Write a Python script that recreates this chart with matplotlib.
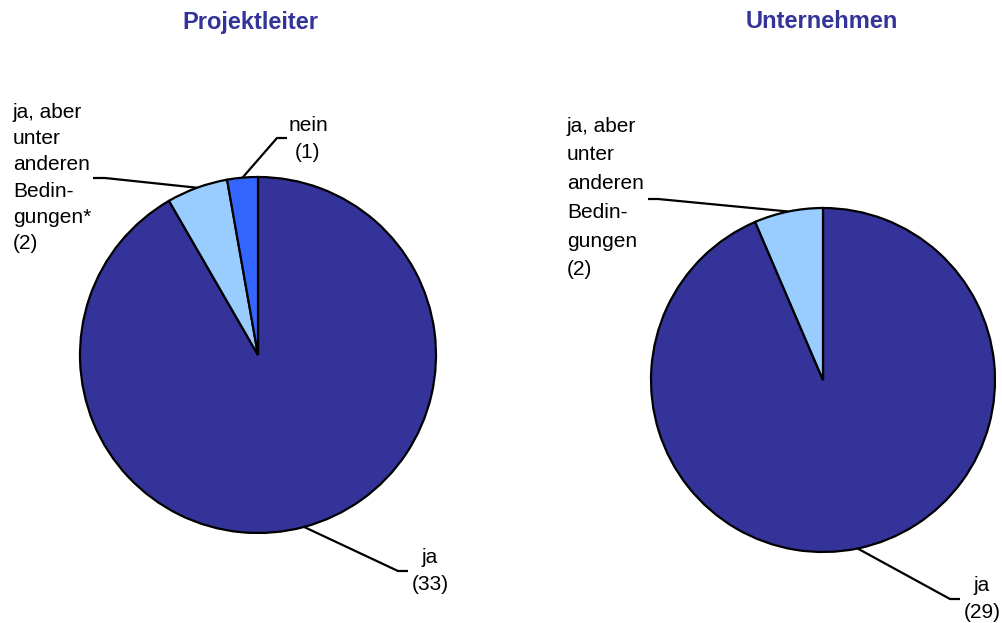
import numpy as np
import matplotlib
matplotlib.use('Agg')
import matplotlib.pyplot as plt

plt.rcParams['font.family'] = ['Liberation Sans', 'DejaVu Sans']

# data
titles = ['Projektleiter', 'Unternehmen']
left_labels = ['ja', 'ja, aber\nunter\nanderen\nBedin-\ngungen*', 'nein']
left_values = [33, 2, 1]
right_labels = ['ja', 'ja, aber\nunter\nanderen\nBedin-\ngungen']
right_values = [29, 2]
colors = ['#333399', '#99CCFF', '#3366FF']
title_color = '#333399'

W, H = 1003, 623
fig = plt.figure(figsize=(W / 100, H / 100), dpi=100)


def pie_axes(cx, cy, r):
    ax = fig.add_axes([(cx - r) / W, 1 - (cy + r) / H, 2 * r / W, 2 * r / H])
    return ax


def to_data(geom, px, py):
    cx, cy, r = geom
    return (px - cx) / r, (cy - py) / r


def draw_pie(geom, values, labels, title, label_specs, title_x):
    ax = pie_axes(*geom)
    wedges, _ = ax.pie(values, colors=colors[:len(values)], startangle=90,
                       counterclock=False, radius=1.0,
                       wedgeprops=dict(edgecolor='black', linewidth=1.6))
    ax.set_xlim(-1, 1)
    ax.set_ylim(-1, 1)
    ax.set_aspect('auto')
    ax.axis('off')
    for w, v, lab, spec in zip(wedges, values, labels, label_specs):
        ang = np.radians((w.theta1 + w.theta2) / 2)
        ex, ey = np.cos(ang), np.sin(ang)
        elbow = to_data(geom, *spec['elbow'])
        stub = to_data(geom, *spec['stub'])
        ax.plot([ex, elbow[0], stub[0]], [ey, elbow[1], stub[1]],
                color='black', lw=1.6, clip_on=False, solid_capstyle='butt')
        tx, ty = to_data(geom, *spec['text'])
        ax.text(tx, ty, f'{lab}\n({v})', ha=spec['ha'], va='center',
                multialignment=spec['ha'], fontsize=15,
                linespacing=spec['ls'], clip_on=False)
    fig.text(title_x / W, 1 - 22 / H, title, ha='center', va='center',
             fontsize=17, fontweight='bold', color=title_color)


left_specs = [
    dict(elbow=(398, 571), stub=(408, 571), text=(430, 571), ha='center', ls=1.47),
    dict(elbow=(105, 178), stub=(93, 178), text=(13, 178), ha='left', ls=1.47),
    dict(elbow=(277, 138), stub=(287, 138), text=(308, 139), ha='center', ls=1.47),
]
right_specs = [
    dict(elbow=(950, 599), stub=(960, 599), text=(982, 599), ha='center', ls=1.47),
    dict(elbow=(658, 199), stub=(648, 199), text=(567, 198), ha='left', ls=1.65),
]

draw_pie((258, 355, 178), left_values, left_labels, titles[0], left_specs, 250)
draw_pie((823, 380, 172), right_values, right_labels, titles[1], right_specs, 822)

fig.savefig('out.png', dpi=100, facecolor='white')
